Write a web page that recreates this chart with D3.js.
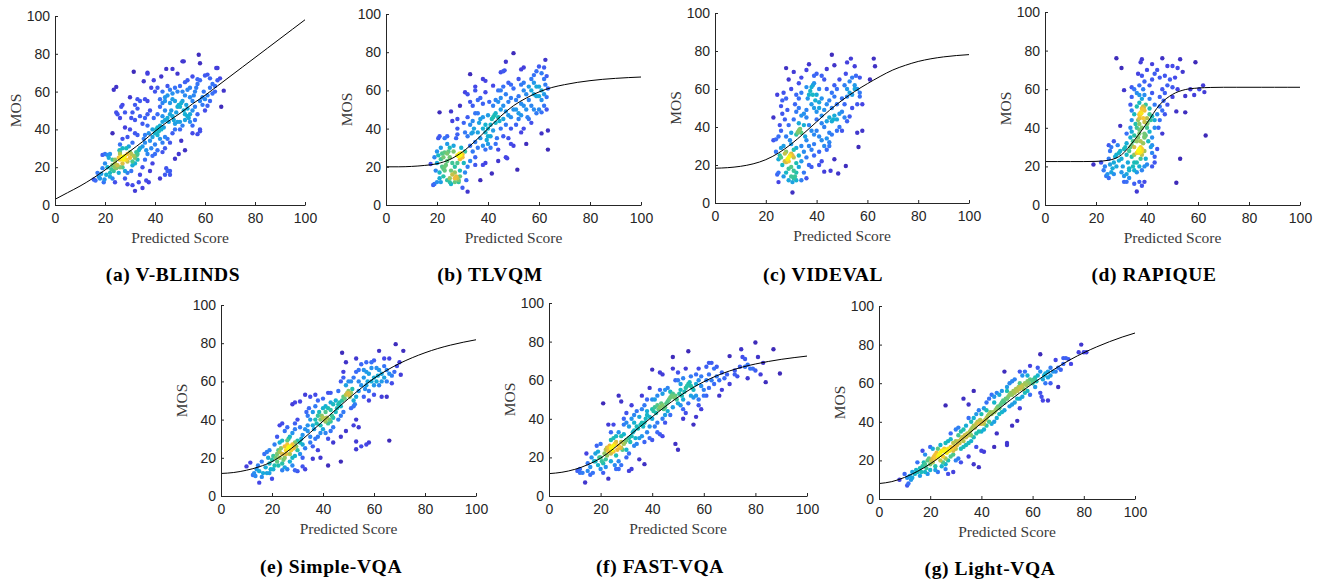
<!DOCTYPE html>
<html>
<head>
<meta charset="utf-8">
<script src="https://cdn.jsdelivr.net/npm/d3@7"></script>
<style>
  body { margin: 0; background: #fff; }
  .lbl { font-family: "Liberation Serif", "Times New Roman", serif; font-size: 15.5px; fill: #3a3a3a; }
  .cap { font-family: "Liberation Serif", "Times New Roman", serif; font-size: 19.5px; font-weight: bold; letter-spacing: 0.6px; fill: #000; }
</style>
</head>
<body>
<div id="chart"></div>
<script>
// ---- data ----
var titles = ["(a) V-BLIINDS", "(b) TLVQM", "(c) VIDEVAL", "(d) RAPIQUE", "(e) Simple-VQA", "(f) FAST-VQA", "(g) Light-VQA"];
var xTicks = [0, 20, 40, 60, 80, 100];
var yTicks = [0, 20, 40, 60, 80, 100];

// fitted curve sampled at these predicted scores
var fitX = [0,5,10,15,20,25,30,35,40,45,50,55,60,65,70,75,80,85,90,95,100];
var fitVBLIINDS = [3,6.5,10,14,18.5,23.5,28.5,33.5,39,44,48.5,53.5,58,63,68,73,78,83,88,93,98];
var fitTLVQM = [20,20,20.2,20.7,21.6,23.8,27.8,33.5,40,46.5,52,56,59.2,61.5,63,64.2,65.1,65.8,66.3,66.7,67];
var fitVIDEVAL = [18.3,18.6,19.3,20.6,22.8,26.3,31,36.7,42.7,48.7,54,58.7,62.8,66.6,70,72.5,74.5,75.9,76.9,77.6,78.1];
var fitRAPIQUE = [22.5,22.5,22.5,22.5,22.6,23.2,26,33.5,42.5,52,57.3,59.8,60.6,60.9,61,61,61,61,61,61,61];
var fitSimpleVQA = [11.8,12.3,13.5,15.3,18,22.3,27.5,33.2,39.2,45.2,51,56.5,61.6,65.8,69.4,72.4,75,77.2,79,80.5,81.8];
var fitFASTVQA = [11.6,12.3,13.8,16.2,19.6,24.5,30,35.6,41,46.3,51.2,55.5,59.2,62.3,64.8,66.8,68.4,69.7,70.8,71.7,72.5];
var fitLightVQA = [8,9,11.2,14.3,18.2,23,28.3,33.8,39.3,44.7,50,55,59.8,64.3,68.5,72.4,75.8,78.8,81.5,83.9,86];

// scatter points [predicted score, MOS]
var ptsVBLIINDS = [
[15.5,13.5],[16.2,13],[17,17],[17.5,15],[18,14],[18.5,16.5],[19,19.5],[19.5,12],[19.8,13.5],[20,27],[19,26.5],[20.5,16],[20,22],
[21,26.5],[21.5,25],[22,27],[22,15],[22.5,19],[23,21],[23,38],[23.5,18],[24,20],[24,22],[24.5,19.5],[24,24],[25,21],[24.5,62.5],[23.5,61],[24.5,49],[25,48],[22,17],[21,20],[23,24],[24,12],[23,14],[25.5,17],
[25.5,25],[26,24],[26.5,25.5],[27,25],[27.3,25.3],[27.5,24],[26,27],[28,26],[28.5,24],[29,27],[29,23],[26,28],[27,30],[26.5,52],[27,53],[26,46],[28,49],[28,41],[29,36],[27,35],[26,32],[27,20],[28,18],[29,17],[28,14],[29,11],[26,20],[27,22],[25.8,29],[29.5,31],[30,28],[28.5,30],
[30,25],[30.5,27],[31,23],[31.5,26],[32,25],[32.5,28],[33,27],[32.8,26.5],[33.5,29],[32,22],[31,21],[33,24],[34,30],[31,33],[32,38],[33,37],[30,40],[30.5,46],[31,49],[32,45],[33,51],[34,47],[32,53],[33,56],[34,55],[31.5,70.5],[30,57],[31,10.5],[32,7.5],[33.5,12],[34,16],[30.5,18],[35,9],
[35,31],[35.5,35],[36,37],[36,33],[36.5,29],[37,27],[37,42],[37.5,38],[38,34],[38.5,30],[39,36],[39,40],[36,46],[37,48],[38,50],[37,55],[36,56],[35.5,65.5],[37,69.5],[37,70],[39.5,46],[38.5,62],[36.5,13],[37.5,12],[35,20],[36,24],[38,18],[39,26],[39,22],[35,43],
[40,38],[40.5,40],[41,41],[41.5,39],[42,42],[42.5,40],[43,44],[43.5,41],[44,45],[41,37],[42,35],[43,33],[40,32],[40,27],[41,29],[43,28],[44,30],[42,14],[44,16],[44.5,19.5],[41,48],[42,52],[43,54],[44,57],[42,56],[40,60],[41,62],[43,60],[44,55],[42.5,68],[39.5,66],[44.5,72],[44,50],[44,36],[43,47],
[45,46],[45.5,44],[46,48],[46.5,50],[47,47],[47.5,45],[48,43],[48.5,49],[49,52],[49.5,53],[48,55],[47,56],[46,54],[45,58],[46,61],[47,59],[48,62],[49,60],[45,35],[46,33],[47,38],[48,40],[49,44],[46,18],[45,18],[46,16],[48,24.5],[49,69.5],[47,72],[45,63],[49.5,27],
[50,52],[50.5,54],[51,55],[51.5,50],[52,48],[52.5,53],[53,47],[53.5,46],[54,48],[50,44],[51,42],[52,45],[53,51],[54,57],[52,58],[51,60],[53,61],[54,62],[50,63],[51,76],[51.5,76],[52,65],[53,66],[50.5,34],[52,29],[54,44],[55,50],[50,40],
[55,55],[55.5,58],[56,60],[56.5,62],[57,64],[58,66],[57.5,79.5],[58,75],[55,68],[57,66.5],[59,57],[58,55],[56,52],[57,48],[58,40],[58,39],[57,37.5],[55,38],[56,45],[59,53],[59.5,60],[55,42],
[60,68.5],[61,69],[62,67],[63,64],[62,62],[61,58],[60,56],[63,59],[64,63],[65,66],[64.5,72.5],[65,72.5],[66,67],[67.5,60.5],[66.5,52],[61,52.5],[60,50],[62,55],[64,60]
];
var ptsTLVQM = [
[17.5,21.5],[18.5,10.5],[19,25],[19,11],[19.5,18],[20,12],[20,22],[20.5,35],[21,36],[21,48.5],[20,28],[21,17],[21.5,24],[21,14],[22,20],[22,27],[22.5,19],[21.5,30],[20.5,26],[21.5,12],
[23,20],[23.5,21],[23,18],[24,27],[24.5,28],[23,27.5],[22.5,15],[24,13],[25,14],[24,23],[25,25],[25.5,18],[25,12],[23,35],[24,36],[25.5,49],[26,44],[25,30],[24,32],[26,22],[25.5,11],[26,16],[22.5,25],
[27,14],[27.5,15],[28,14],[28.5,13],[29,15],[27,12],[28,26],[28.5,25.5],[29,26.5],[29.2,26],[28.8,26.8],[29.5,27],[30,25],[29,24],[27,20],[26.5,31],[27.5,35],[28,40],[28,45],[29,52],[28,37],[26.5,28],[28.5,12],[30,9],[29,18],[27,17],[29.5,30],[28,22],
[30,26.5],[31,28],[30.5,22],[31,17],[32,7],[31.5,13],[32,20],[33,23],[33,31],[32,36],[31,38],[33,42],[34,44],[32,46],[31,59],[32,58],[33,68.5],[34,52],[33,54],[34,38],[35,33],[34,28],[35,25],[35,21],[30.5,43],[33.5,37.5],[35,48],[34.5,40],
[35,60],[35,62],[36,55],[37,56],[38,53],[36,48],[37,45],[38,40],[39,38],[36,38],[37,35],[38,31],[39,29],[36,30],[37,13],[38,21],[39,22],[38,66],[39,65],[39,59],[40,47],[36.5,43],[38,46],[39.5,34],[40,36],[39,42],
[40,40],[41,42],[41.5,45],[42,46],[42.5,47],[43,48],[44,46],[43,43],[42,39],[41,36],[40,32],[41,30],[43,32],[44,29],[41.5,16.5],[44,23],[42,62.5],[43,55],[44,54],[42,52],[40.5,54],[44,60],[45,56],[43.5,35],[45,40],[44.5,44],
[45,69.5],[46,70],[46.5,70.5],[47,75],[45,50],[46,52],[47,49],[48,54],[49,56],[46,45],[47,42],[48,47],[49,40],[47.5,24.5],[47,25],[49,32],[50,31],[46,36],[48,35],[45,60],[46,62],[48,64],[49,63],[50,79.5],[50,50],[47,58],[49,46],
[51,55],[52,57],[53,53],[54,60],[53,63],[51,50],[52,45],[53,47],[54,52],[51.5,18.5],[53,71],[54,72],[52,66],[55,58],[50,61],[51,42],[53,38],[54,40],[55,32],[52,48],[54,64],[55,50],
[56,62],[57,66],[58,68],[57,60],[58,58],[59,70],[56,55],[57,52],[58,50],[59,48],[56,45],[57,43],[59,62],[58,64],[55.5,46],[59,57],
[60,72.5],[62,72],[62.5,76],[63,67.5],[61,69],[62,66],[60,62],[61,60],[62,58],[63,56.5],[63.5,61],[61,55],[62,52],[60,50],[63,50],[61,48.5],[61,37.5],[63.5,39],[63.5,29],[60,57],[62.5,63]
];
var ptsVIDEVAL = [
[23,45],[23,33],[24,33.5],[24,27],[24.5,15],[25,16],[25,11],[24.5,57],[25,35],[25.5,41],[26,51],[26,38],[26.5,54],[26,24],[25.5,25],[26,29],[27,30],[27,14],[26.5,20],[25,23],[27,58],[26.5,47],
[27.5,22],[28,21.5],[28.5,23],[29,24],[29.5,25],[30,26],[30.5,25],[29,22],[28,27],[27.5,44],[28,71],[29,65],[28,55],[28.5,49],[29,41],[30,37],[29.5,33],[30,31],[28,16],[29,18],[30,14],[30.5,11],[30.5,5.5],[29,12],[30,19],[31,69],[30,60],[28,35],[27.5,26],[31,28],
[31,13],[31.5,14],[32,12],[32,16],[31,17],[33,19],[32,21],[31,24],[32,29],[32.5,37],[33,38],[33.2,38.5],[32.8,37.5],[33.5,39],[32,36],[34,37],[33,42],[31,44],[32,48],[33,50],[34,46],[33,55],[32,57],[34,58],[34,66],[33,63],[34,30],[35,27],[34,22],[33,25],[35,41],[34,12],[35,16],[31.5,52],
[35,47],[36,49],[36.5,55],[37,57],[37.5,59],[38,61],[38.5,62],[39,63],[36,70],[37,73],[36,61],[36,45],[37,41],[38,38],[39,36],[36,33],[37,30],[38,28],[39,25],[36,24],[37,20],[38,19],[39,31],[40,68],[39,67],[38,52],[39,50],[40,44],[35.5,35],[36,13],[38.5,57],[39.5,54],
[40,48],[41,53],[42,55],[41,50],[42,46],[43,49],[44,52],[40,38],[41,35],[42,33],[43,30],[44,28],[41,27],[42,22],[43,16.5],[44,60],[43,65],[44,70.5],[42,67],[41,60],[40,57],[43,40],[44,43],[45,37],[42,42],[44,34],[41,20],
[45,45],[46,43],[46.5,44],[47,46],[46,50],[45,54],[47,56],[46,58],[48,60],[47,62],[46,78],[47,72.5],[45.5,17],[48.5,15.5],[47,23],[45,30],[46,36],[48,38],[49,40],[49,47],[48,52],[50,55],[49,65],[45,32],[48,44],
[50,48],[51,52],[52,56],[53,58],[54,57],[55,60],[52,60],[51,62],[53,64],[54,66],[55,62],[52,74],[53.5,76],[51.5,68],[55,72],[55.5,67],[53,45.5],[51.5,19.5],[50,38],[52,43],[54,50],[51,45],[56,37],
[57,66],[56,60],[57,56],[58,52],[56.5,29.5],[58,38],[61,65],[62.5,76],[63,72],[56,52],[57,58]
];
var ptsRAPIQUE = [
[19,21],[22,22],[23,18],[24,15],[24.5,16],[25,14],[25,24],[25.5,28],[25,31],[26,30],[26.5,19],[27,22],[27.5,25],[26,17],[25.5,21],[27,33],[28,76],[27,16],[28,20],[28,26],[23.5,20],
[29,27],[29.5,28],[30,24],[30,17],[31,15],[31,12],[32,12],[29.5,41],[30,71],[31,59.5],[32,32],[31.5,30],[32,26],[32.5,22],[33,19],[33,18],[30.5,20],[32,37],[31,29],[29,23],[33,14],[28.5,31],[33,28],[32,16],
[33.5,30],[34,31],[34.5,33],[35,30],[35,36],[34,38],[33.5,40],[34,44],[35,47],[33.5,52],[34,61],[35,60],[34,56],[35,11],[34,25],[35,22],[34.5,20],[35,26],[33.5,35],[34,49],[35.5,42],[35,18],[36,7],
[36,27],[36.5,28],[37,27],[37.5,27.5],[37,29],[37.5,30],[36,33],[36.5,35],[37,37],[37,39],[36,40],[36.5,44],[37,47],[37.2,46.5],[37.8,47.5],[37,45],[37.5,48],[36,51],[37,53],[37,62],[36.5,68],[37.5,74],[37,12],[36,22],[37,20],[37.5,24],[36,17],[37,57],[36,58],[37.5,33],[37,42],
[38,50],[38.2,49.5],[38.8,50.5],[38.5,51],[39,49],[38,29],[38,28],[38,26],[38.5,32],[39,35],[39,35.5],[39.5,36],[39,37],[38,40],[39,43],[38.5,45],[38,55],[39,57],[38.5,60],[39,64],[38,75.5],[38,10],[39,12],[38,18],[39,20],[39.5,24],[39,28],[38,67],[40,42],[40.2,42.5],[40,40],[39.5,52],
[40,45],[41,47],[41.5,44],[42,46],[41,38],[42,35],[41.5,30],[42,27],[43,25],[43,22],[42,20],[40.5,33],[41,55],[42,58],[43,52],[41,62],[42,65],[43,68],[42,73],[40,70],[44,70],[41,50],[43,44],[44,47],[43,40],[42,31],[44,29],[40,21],
[45,51],[46,49],[45,56],[46,60],[47,58],[48,62],[46,37],[45,44],[47,47],[46,76],[48,72],[45,66],[47,67],[49,65],[44.5,40],[46.5,54],[48,52],
[50,72],[52,71],[53,75.5],[54,69],[50,61],[52,60],[51.5,48.5],[55,48],[55,56.5],[57,60],[58.5,57],[59,74],[60.5,60],[62,62],[62.5,58.5],[63,36],[53,24],[51.5,11.5],[50,56],[51,66]
];
var ptsSimpleVQA = [
[10,15.5],[11.5,17.5],[12.5,11],[13,12],[13.5,10.5],[14,14],[15,7],[15,13],[16,18],[16.5,12],[17,22],[17.5,15],[18,23],[18,12],[16,10],[14.5,16],
[19,24],[19,17],[19.5,14],[20,9],[20,19],[20.5,21],[21,27],[21,16],[21.5,20],[22,31],[22,22],[22,18],[19,12],[20.5,14],[18.5,20],
[22.5,24],[23,20],[23,23],[23.5,25],[24,22],[24,17],[24.5,19],[25,20],[25,26],[25.5,24],[23,37],[24,38],[25,34],[26,36],[23,28],[24,29],[22.5,16],[25,15],[26,14],[24,13.5],[25.5,22],[26,27],[26,29],
[26.5,25],[26.5,25.5],[27,26],[27.5,24],[28,27],[28.5,25],[29,28],[29.5,26],[30,24],[27,22],[28,20],[29,21],[27,31],[28,33],[29,35],[28,48],[29,49],[30,13],[29,13.5],[28,16],[27,18],[30,29],[29,38],[30,40],[26.5,30],
[31,28],[31.5,30],[32,27],[32,32],[33,35],[33,25],[34,34],[34,37],[31,49.5],[33,53],[35,52],[33,14],[32,15.5],[33.5,44],[34,42],[31,22],[32,20],[35,31],[35,28],[35,40],[34.5,46],[31,36],
[36,37],[36.5,35],[37,40],[37.5,38],[38,42],[38.5,44],[39,40],[39,37],[36,44],[37,47],[38,50],[36,26],[37,30],[38,31],[39,33],[40,35],[40,41],[39.5,42],[38,24],[39,20],[36,19.5],[40,46],[37,53],
[40.5,40],[41,39],[41.5,41],[42,38],[42.5,40],[43,39],[43.5,42],[44,41],[41,44],[42,46],[43,45],[44,48],[42,54],[43,54],[40,51],[41,33],[42,30],[43,34],[44,36],[42,16],[44,28],[45,44],[45,50],[43,49],[41,47],
[45.5,46],[46,48],[46.5,49],[47,47],[47.5,50],[48,52],[48.5,51],[49,53],[49.5,54],[50,53.5],[49.8,53.8],[50.3,53],[50,55],[47,42],[48,44],[46,40],[47,31],[49,34],[47,18],[47.5,75],[49,70],[48,62],[47,60],[49,58],[46,55],[48,65],
[50.5,52],[51,54],[51.5,56],[52,50],[52.5,48],[53,52],[54,55],[51,46],[52,47],[53,40],[52,37],[53,28.5],[53,24.5],[54,36],[55,26],[51,60],[52,62],[53,65],[54,60],[53,72],[55,69],[55,58],[50,60],[54,66],
[56,52],[56.5,56],[57,58],[57.5,60],[58,55],[59,60],[56,62],[57,65],[58,64],[59,67],[57,70],[59,70],[57,27],[58,28],[58,50],[60,53],[60,62],[60,58],[56,66],
[61,60],[61.5,63],[62,66],[62,58],[63,60],[63,64],[64,62],[64,68],[65,66],[65,60],[66,64],[66,72],[64,72],[62,76],[67,63],[67,59],[68,65],[63,52],[65,52],[66,29],[68.5,79.5],[70,70],[71.5,76],[70.5,63.5],[69,68],[61,67],[60,71]
];
var ptsFASTVQA = [
[11,13],[12,14],[13,12],[14,7],[14.5,22],[15,17],[15,13],[16,15],[16.5,20],[17,12],[17.5,18],[18,18],[18,22],[16,11],[12,12],
[19,23],[19,16],[19.5,20],[20,20],[20,14],[20.5,18],[21,17],[21,48],[21.5,22],[22,24],[22,19],[21,12],[20,27],[18.5,26],[22,15],
[22.5,25],[23,25],[23,23],[23.5,26],[24,25],[24,22],[24.5,24],[25,26],[25,23],[25.5,27],[23,37],[23,9],[24,29],[25,30],[26,28],[22.5,21],[24,18],[25.5,16],[26,14],[24,33],[26,31],[25,37],
[26.5,24],[27,26],[27.5,25],[28,25],[28.5,24],[29,27],[29.5,28],[30,29],[27,52],[28,49],[28,28],[29,37],[30,38],[27,33],[28,31],[29,32],[26,21],[27,18],[28,16],[30,24],[30,20],[29,40],[30,43],[27,14],
[31,30],[31.5,28],[32,31],[32.5,33],[33,34],[33.5,30],[34,36],[34.5,35],[31,13],[32,14],[32,40],[33,42],[34,44],[35,19],[31,22],[33,26],[34,27],[32,47],[35,30],[33,38],[31,36],[35,41],
[35.5,37],[36,38],[36.5,36],[37,38],[37.5,40],[38,42],[39,41],[36,45],[37,47],[38,50],[39,56],[37,16.5],[38,33],[39,30],[40,29],[36,31],[37,28],[39,36],[40,45],[40,40],[38,44],[36,52],
[40.5,44],[41,46],[41.5,43],[42,47],[42.5,45],[43,46],[43.5,48],[44,47],[44.5,45],[41,50],[42,52],[43,55],[44,53],[40,65.5],[43,64],[44,63],[42,33],[43,32],[44,31],[41,36],[42,38],[40,50],[44,40],[45,42],
[45,46],[45.5,48],[46,49],[46.5,50],[47,51],[47.5,52],[48,53],[48.5,51],[49,52],[49.5,50],[46,44],[47,42],[48,46],[45,55],[46,56],[47,54],[48,72],[48,66],[49,60],[49,27],[50,24],[50,64],[45,38],[50,48],
[50.5,53],[51,55],[51.5,52],[52,50],[52.5,54],[53,56],[53.5,57],[54,58],[54.5,59],[55,57],[51,47],[52,45],[53,43],[54,48],[50,60],[51,58],[52,61],[54,75],[53,66],[55,52],[52,40],
[55.5,56],[56,55],[57,58],[58,60],[59,57],[56,51],[57,52],[58,50],[56,37],[57,41],[58,47],[59,45],[60,52],[59,62],[57,63],[58,66],[55,62],[60,55],
[61,60],[61,67],[62,69],[63,69],[64,66],[62,63],[63,60],[64,58],[65,62],[66,60],[67,55],[66,52],[68,61],[69,63],[70,58],[70,72.5],[65,67],[62,56],[61,52],[67,64],
[72,63],[73,62],[74,67],[74.5,76],[75,72],[76,71],[77,61],[77,68],[78,66],[79,66],[80,79.5],[81,72],[82,63],[83,69],[84,59],[87,76],[89.5,63.5],[80,65],[76,67],[72,65]
];
var ptsLightVQA = [
[8,10],[10,13],[11,11],[11.5,8],[11,7],[12,12],[13,14],[13,11],[14,13],[14.5,15],[15,19],[15,14],[12.5,10],
[16,16],[16.5,14],[17,17],[17,25],[17.5,19],[18,23],[18,18],[18.5,16],[19,20],[19.5,21],[20,27],[20,18],[19,13],[16,12],[18,14],[20,15],
[20.5,20],[21,21],[21.5,22],[22,21],[22,23],[22.5,24],[23,22],[23.5,23],[24,24],[24.5,25],[21,19],[22,17],[23,14],[24,20],[25,19],[23,26],[24,28],[21,26],[25,22],[22,15],[24.5,17],
[25,25],[25.5,26],[26,25],[26.5,24],[27,26],[27.5,25],[28,27],[28.5,26],[29,25],[29.5,27],[30,26],[26,48.5],[28,34],[29,14],[27,13],[26,15.5],[26,21],[27,20],[28,22],[29,23],[30,20],[27,30],[26,29],[28,31],[30,30],[29,29],[26,18],
[30.5,28],[31,30],[31.5,29],[32,31],[32.5,32],[33,30],[33.5,33],[34,32],[34.5,34],[35,33],[30,36],[31,37],[33,52],[32,19],[31,21],[32,26],[33,27],[34,28],[35,22],[35,29],[33,36],[32,35],[34,38],[31,33],
[35.5,35],[36,36],[36.5,37],[37,38],[37.5,37],[38,39],[38.5,40],[39,39],[39.5,41],[35,49],[37,56],[37,18],[39,16.5],[38,27],[36,30],[37,32],[38,34],[39,35],[36,40],[37,42],[38,44],[39,46],[40,25],[35,42],[36,33],
[40,39],[40.5,40],[41,39],[41.5,41],[42,42],[42.5,43],[43,44],[43.5,45],[44,44],[44.5,45],[41,24.5],[41,36],[42,38],[43,40],[44,39],[40,44],[41,47],[42,50],[43,52],[44,54],[45,27],[40,35],[45,40],[42,46],
[45,45],[45.5,46],[46,47],[46.5,48],[47,47],[47.5,49],[48,50],[48.5,51],[49,50],[49.5,52],[46,34],[46,42],[47,44],[48,45],[49,46],[45,53],[46,55],[47,54],[49,66],[50,29],[50,28],[50,56],[48,56],[45,50],
[50,52],[50.5,53],[51,54],[51.5,55],[52,54],[52.5,56],[53,55],[53.5,57],[54,56],[54.5,58],[52,38],[54,40.5],[51,48],[52,49],[53,50],[54,52],[50,58],[51,60],[52,61],[53,62],[55,47],[55,60],
[55,57],[55.5,58],[56,59],[56.5,57],[57,60],[57.5,59],[58,61],[58.5,60],[59,62],[55,66],[59,69],[60,61],[56,53],[57,55],[58,56],[59,54],[56,64],[57,66],[58,64],[55,52],
[60,60],[60.5,62],[61,63],[61.5,61],[62,64],[62,68],[63,75],[63,55],[63.5,53],[64,51],[66,51],[64,62],[64.5,64],[65,65],[65,60],[66,63],[66,66],[67,60],[67,64],[67,68],[68,66],[63,66],[61,58],
[69,72],[69,66],[70,58],[70,68],[71,67],[72,73],[73,73],[74,72.5],[75,70],[78,76],[79,80],[80,76],[81,76],[72,70]
];

var allPts = [ptsVBLIINDS, ptsTLVQM, ptsVIDEVAL, ptsRAPIQUE, ptsSimpleVQA, ptsFASTVQA, ptsLightVQA];
var allFits = [fitVBLIINDS, fitTLVQM, fitVIDEVAL, fitRAPIQUE, fitSimpleVQA, fitFASTVQA, fitLightVQA];

// ---- layout (pixel boxes of each axes, and caption anchors) ----
var layout = [
  {left: 55,  right: 305,  top: 16,  bottom: 205, capX: 173,  capY: 281},
  {left: 386, right: 641,  top: 14,  bottom: 205, capX: 490,  capY: 281},
  {left: 715, right: 969,  top: 13,  bottom: 203, capX: 823,  capY: 281},
  {left: 1045,right: 1300, top: 12,  bottom: 205, capX: 1154, capY: 281},
  {left: 221, right: 476,  top: 305, bottom: 496, capX: 331,  capY: 573},
  {left: 549, right: 807,  top: 303, bottom: 496, capX: 660,  capY: 573},
  {left: 879, right: 1135, top: 306, bottom: 499, capX: 990,  capY: 575}
];

// parula-like colormap
var parula = d3.scaleLinear()
  .domain([0, 0.12, 0.25, 0.38, 0.5, 0.6, 0.7, 0.8, 0.88, 0.94, 1])
  .range(["#3e2ab8", "#4545e6", "#3a6cf8", "#2594ee", "#14b2d2", "#1fc0ae", "#58c985", "#acc652", "#f0b93c", "#fbcf2e", "#f9fb0e"])
  .interpolate(d3.interpolateRgb)
  .clamp(true);

var svg = d3.select("#chart").append("svg")
  .attr("width", 1324)
  .attr("height", 582);

function styleAxis(sel) {
  sel.select(".domain").attr("stroke", "#262626");
  sel.selectAll(".tick line").attr("stroke", "#262626");
  sel.selectAll(".tick text")
    .style("font-family", "'Liberation Sans', Arial, sans-serif")
    .style("font-size", "14px")
    .attr("fill", "#262626");
}

layout.forEach(function(L, i) {
  var w = L.right - L.left, h = L.bottom - L.top;
  var x = d3.scaleLinear().domain([0, 100]).range([0, w]);
  var y = d3.scaleLinear().domain([0, 100]).range([h, 0]);

  var g = svg.append("g").attr("transform", "translate(" + L.left + "," + L.top + ")");

  // density of each point (gaussian kernel in pixel space)
  var pts = allPts[i].map(function(p) { return {px: x(p[0]), py: y(p[1])}; });
  var sig = 5.5;
  pts.forEach(function(a) {
    var s = 0;
    pts.forEach(function(b) {
      var dx = a.px - b.px, dy = a.py - b.py;
      s += Math.exp(-(dx * dx + dy * dy) / (2 * sig * sig));
    });
    a.d = s;
  });
  var dmax = d3.max(pts, function(p) { return p.d; });
  pts.sort(function(a, b) { return a.d - b.d; });

  g.selectAll("circle")
    .data(pts)
    .enter().append("circle")
    .attr("cx", function(p) { return p.px; })
    .attr("cy", function(p) { return p.py; })
    .attr("r", 2.2)
    .attr("fill", function(p) { return parula(Math.pow((p.d - 1) / (dmax - 1), 1.1)); });

  // fitted curve
  var line = d3.line()
    .x(function(d, k) { return x(fitX[k]); })
    .y(function(d) { return y(d); })
    .curve(d3.curveMonotoneX);
  g.append("path")
    .attr("d", line(allFits[i]))
    .attr("fill", "none")
    .attr("stroke", "#000")
    .attr("stroke-width", 1);

  // axes (MATLAB style: ticks pointing in)
  g.append("g")
    .attr("transform", "translate(0," + h + ")")
    .call(d3.axisBottom(x).tickValues(xTicks).tickSizeInner(-3).tickSizeOuter(0).tickPadding(8))
    .call(styleAxis);
  g.append("g")
    .call(d3.axisLeft(y).tickValues(yTicks).tickSizeInner(-3).tickSizeOuter(0).tickPadding(5))
    .call(styleAxis);

  g.append("text")
    .attr("class", "lbl")
    .attr("x", w / 2)
    .attr("y", h + 38)
    .attr("text-anchor", "middle")
    .text("Predicted Score");
  g.append("text")
    .attr("class", "lbl")
    .attr("transform", "translate(-34," + (h / 2) + ") rotate(-90)")
    .attr("text-anchor", "middle")
    .text("MOS");

  svg.append("text")
    .attr("class", "cap")
    .attr("x", L.capX)
    .attr("y", L.capY)
    .attr("text-anchor", "middle")
    .text(titles[i]);
});
</script>
</body>
</html>
